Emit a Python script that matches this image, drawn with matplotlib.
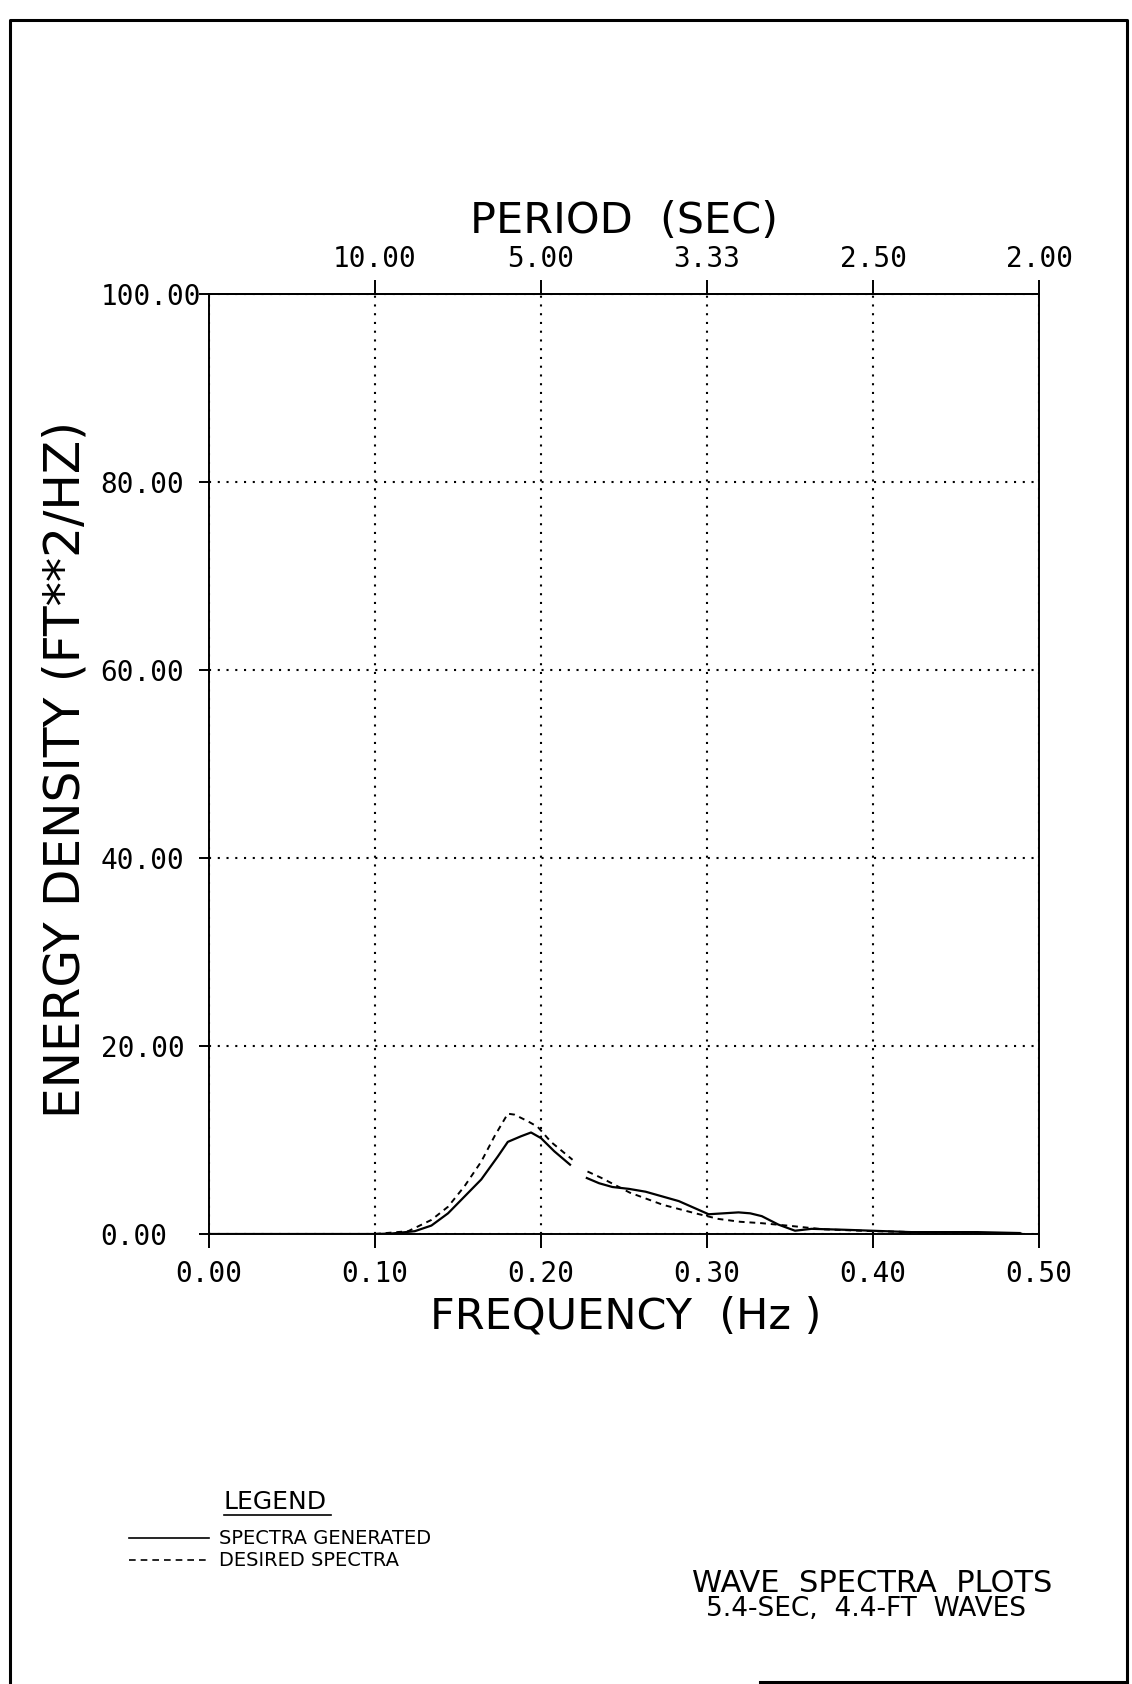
import numpy as np
import matplotlib
matplotlib.use("Agg")
import matplotlib.pyplot as plt
from matplotlib.lines import Line2D

# spectra (Hz, ft^2/Hz); NaN marks the pen lift near 0.22 Hz
freq_gen = [0.00, 0.10, 0.11, 0.124, 0.134, 0.144, 0.154, 0.164, 0.174, 0.180,
            0.188, 0.194, 0.200, 0.208, 0.218, np.nan, 0.227, 0.235, 0.243, 0.253,
            0.263, 0.273, 0.283, 0.292, 0.301, 0.310, 0.319, 0.326, 0.333, 0.343,
            0.353, 0.363, 0.373, 0.383, 0.399, 0.423, 0.443, 0.463, 0.489]
energy_gen = [0.0, 0.0, 0.05, 0.3, 0.9, 2.2, 4.0, 5.8, 8.25, 9.8,
              10.4, 10.8, 10.2, 8.8, 7.3, np.nan, 6.0, 5.4, 5.0, 4.8,
              4.5, 4.0, 3.5, 2.8, 2.1, 2.2, 2.3, 2.2, 1.9, 1.0,
              0.35, 0.55, 0.5, 0.45, 0.35, 0.2, 0.2, 0.2, 0.1]

freq_des = [0.10, 0.12, 0.134, 0.144, 0.154, 0.164, 0.172, 0.180, 0.184, 0.192,
            0.198, 0.206, 0.219, np.nan, 0.228, 0.236, 0.2535, 0.2735, 0.293, 0.307,
            0.320, 0.333, 0.351, 0.370, 0.400, 0.440, 0.490]
energy_des = [0.0, 0.3, 1.5, 2.9, 5.1, 7.7, 10.4, 12.8, 12.7, 12.0,
              11.4, 9.8, 7.9, np.nan, 6.65, 6.0, 4.4, 3.1, 2.2, 1.6,
              1.3, 1.15, 0.85, 0.5, 0.3, 0.15, 0.05]

x_ticks = [0.0, 0.1, 0.2, 0.3, 0.4, 0.5]
y_ticks = [0, 20, 40, 60, 80, 100]
period_ticks = [0.1, 0.2, 0.3, 0.4, 0.5]
period_labels = ["10.00", "5.00", "3.33", "2.50", "2.00"]

W, H = 1132, 1684
mono = "DejaVu Sans Mono"
sans = "DejaVu Sans"

fig = plt.figure(figsize=(W / 100, H / 100), dpi=100)
fig.patch.set_facecolor("white")

# main axes, placed in pixel units
ax_l, ax_r, ax_t, ax_b = 209, 1039, 294, 1234
ax = fig.add_axes([ax_l / W, 1 - ax_b / H, (ax_r - ax_l) / W, (ax_b - ax_t) / H])

ax.plot(freq_gen, energy_gen, color="black", lw=1.6, solid_capstyle="butt")
ax.plot(freq_des, energy_des, color="black", lw=1.4, linestyle=(0, (3, 2.5)))

ax.set_xlim(0, 0.5)
ax.set_ylim(0, 100)
ax.set_xticks(x_ticks)
ax.set_yticks(y_ticks)
ax.set_xticklabels(["%.2f" % v for v in x_ticks], family=mono, fontsize=20)
ax.set_yticklabels(["%.2f" % v for v in y_ticks], family=mono, fontsize=20)
for lab in ax.get_yticklabels():
    lab.set_ha("left")
ax.tick_params(axis="x", direction="out", length=10, width=1.4, pad=9)
ax.tick_params(axis="y", direction="out", length=7, width=1.4, pad=71)
ax.grid(True, color="black", linestyle=(0, (1, 3.2)), lw=1.5)
for s in ax.spines.values():
    s.set_linewidth(1.4)

top = ax.secondary_xaxis("top")
top.set_xticks(period_ticks)
top.set_xticklabels(period_labels, family=mono, fontsize=20)
top.tick_params(direction="out", length=10, width=1.4, pad=5)
top.spines["top"].set_linewidth(1.4)

# overlay in pixel coordinates for frame, axis titles and legend
ov = fig.add_axes([0, 0, 1, 1], zorder=-1)
ov.set_xlim(0, W)
ov.set_ylim(H, 0)
ov.axis("off")

ov.plot([10, 10, 1127, 1127], [H + 5, 20, 20, H + 5], color="black", lw=2.2)
ov.plot([760, 1127], [1682, 1682], color="black", lw=2.2)

ov.text(624, 221, "PERIOD  (SEC)", family=sans, fontsize=31,
        ha="center", va="center")
ov.text(626, 1316, "FREQUENCY  (Hz )", family=sans, fontsize=31,
        ha="center", va="center")
ov.text(66, 770, "ENERGY DENSITY (FT**2/HZ)", family=sans, fontsize=35,
        ha="center", va="center", rotation=90)

# legend
ov.text(224, 1502, "LEGEND", family=sans, fontsize=18, ha="left", va="center")
ov.plot([224, 331], [1515, 1515], color="black", lw=1.2)
ov.add_line(Line2D([129, 209], [1538, 1538], color="black", lw=1.2))
ov.add_line(Line2D([129, 209], [1560, 1560], color="black", lw=1.2,
                   linestyle=(0, (4, 3))))
ov.text(219, 1538, "SPECTRA GENERATED", family=sans, fontsize=14,
        ha="left", va="center")
ov.text(219, 1560, "DESIRED SPECTRA", family=sans, fontsize=14,
        ha="left", va="center")

ov.text(872, 1584, "WAVE  SPECTRA  PLOTS", family=sans, fontsize=22,
        ha="center", va="center")
ov.text(866, 1609, "5.4-SEC,  4.4-FT  WAVES", family=sans, fontsize=19,
        ha="center", va="center")

fig.savefig("out.png", dpi=100, facecolor="white")
